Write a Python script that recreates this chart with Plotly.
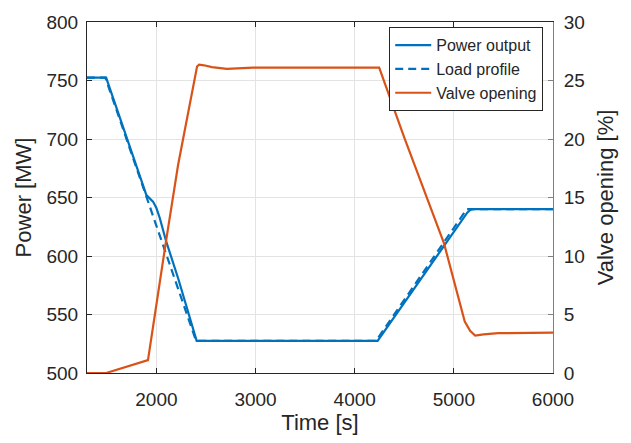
import plotly.graph_objects as go

# Data
time_power = [1300, 1493, 1899, 1915, 1940, 1966, 2000, 2033, 2101, 2219, 2406, 4231, 5135, 5165, 5195, 6000]
power_output = [752.5, 752.5, 652.0, 650.5, 648.5, 646.5, 641.0, 632.7, 611.8, 581.0, 527.5, 527.5, 637.0, 639.3, 640.0, 640.0]

time_load = [1300, 1485, 2400, 4215, 5130, 6000]
load_profile = [752.5, 752.5, 527.5, 527.5, 640.0, 640.0]

time_valve = [1300, 1493, 1915, 2033, 2094, 2219, 2410, 2430, 2480, 2560, 2710, 2977, 4247, 4501, 4900, 5110, 5164, 5215, 5300, 5447, 6000]
valve_opening = [0.0, 0.0, 1.1, 7.9, 11.1, 17.8, 26.2, 26.35, 26.3, 26.15, 26.0, 26.1, 26.1, 20.1, 11.1, 4.4, 3.6, 3.2, 3.3, 3.4, 3.45]

x_ticks = [2000, 3000, 4000, 5000, 6000]
power_ticks = [500, 550, 600, 650, 700, 750, 800]
valve_ticks = [0, 5, 10, 15, 20, 25, 30]

BLUE = "#0072BD"
ORANGE = "#D95319"
TXT = "#262626"
FONT = "Liberation Sans, Arial, sans-serif"

fig = go.Figure()
fig.add_trace(go.Scatter(x=time_power, y=power_output, mode="lines", name="Power output",
                         line=dict(color=BLUE, width=2.2), yaxis="y"))
fig.add_trace(go.Scatter(x=time_load, y=load_profile, mode="lines", name="Load profile",
                         line=dict(color=BLUE, width=2.2, dash="8px,5px"), yaxis="y"))
fig.add_trace(go.Scatter(x=time_valve, y=valve_opening, mode="lines", name="Valve opening",
                         line=dict(color=ORANGE, width=2.2), yaxis="y2"))

fig.update_layout(
    width=631, height=443,
    margin=dict(l=87, r=78, t=15, b=70),
    paper_bgcolor="white", plot_bgcolor="white",
    font=dict(family=FONT, color=TXT, size=19),
    showlegend=True,
    legend=dict(x=0.979, y=0.985, xanchor="right", yanchor="top",
                bgcolor="white", bordercolor=TXT, borderwidth=1, itemwidth=36,
                font=dict(size=16, color=TXT), tracegroupgap=0),
    xaxis=dict(range=[1300, 6000], tickvals=x_ticks, ticks="inside", ticklen=5,
               tickcolor=TXT, showline=True, linecolor=TXT, linewidth=1, mirror="ticks",
               showgrid=True, gridcolor="#e3e3e3", gridwidth=1, zeroline=False,
               title=dict(text="Time [s]", font=dict(size=22), standoff=2),
               tickfont=dict(size=19), ticklabelstandoff=9),
    yaxis=dict(range=[500, 800], tickvals=power_ticks, ticks="inside", ticklen=5,
               tickcolor=TXT, showline=True, linecolor=TXT, linewidth=1,
               showgrid=True, gridcolor="#e3e3e3", gridwidth=1, zeroline=False,
               title=dict(text="Power [MW]", font=dict(size=22), standoff=8),
               tickfont=dict(size=19), ticklabelstandoff=4),
    yaxis2=dict(range=[0, 30], tickvals=valve_ticks, ticks="inside", ticklen=5,
                tickcolor="#7f7f7f", overlaying="y", side="right", showline=True,
                linecolor="#7f7f7f", linewidth=1, showgrid=False, zeroline=False,
                title=dict(text="Valve opening [%]", font=dict(size=22), standoff=13),
                tickfont=dict(size=19), ticklabelstandoff=6),
)

fig.write_html("out.html")
